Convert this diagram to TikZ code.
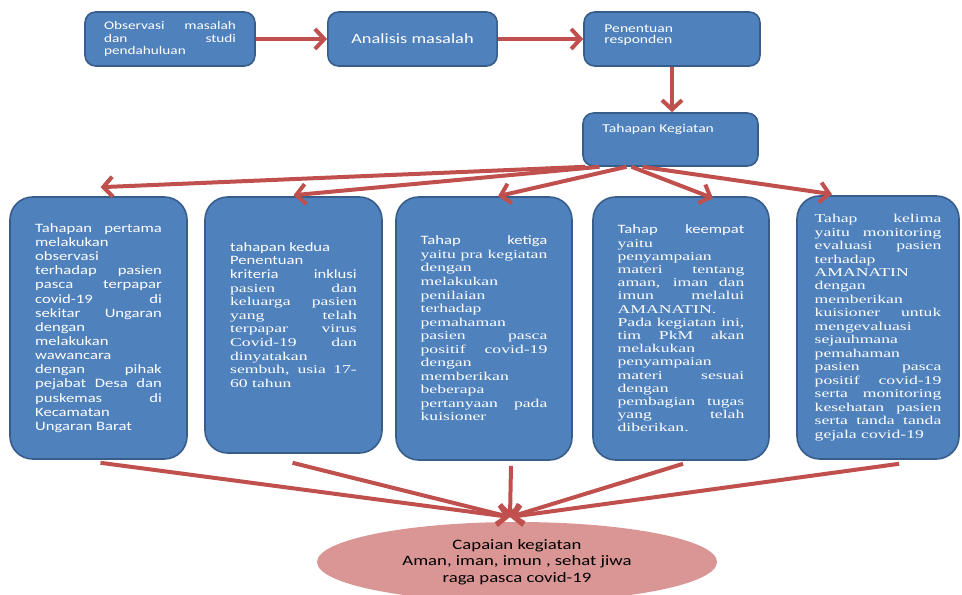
\documentclass[tikz,border=0pt]{standalone}
\usepackage{fontspec}
\setmainfont{Carlito}[FakeStretch=1.3]
\newfontfamily\serifbox{Liberation Serif}[FakeStretch=1.47]
\usetikzlibrary{arrows.meta,shapes.geometric,calc}
\definecolor{boxblue}{RGB}{79,129,189}
\definecolor{boxline}{RGB}{56,93,138}
\definecolor{arrowred}{RGB}{192,80,77}
\definecolor{capfill}{RGB}{217,150,148}
\newlength{\stageskip}
\newcommand{\srf}{\serifbox\fontsize{9}{\stageskip}\selectfont}
\tikzset{
topbox/.style={draw=boxline, fill=boxblue, line width=1.2pt, rounded corners=8pt, minimum height=40.5pt, text=white},
toptext/.style={anchor=north west, inner sep=0pt, text=white, align=left, font=\fontsize{9}{8.5}\selectfont},
stagebox/.style={draw=boxline, fill=boxblue, line width=1.2pt, rounded corners=17pt, text=white, text width=95pt, align=justify, minimum width=132.75pt, minimum height=196.5pt, font={\setlength{\stageskip}{#1}\fontsize{9.6}{\stageskip}\selectfont}},
flow/.style={draw=arrowred, line width=3pt, -{Straight Barb[length=7pt,width=15pt]}}
}

\begin{document}
\begin{tikzpicture}[x=0.75pt,y=0.75pt,yscale=-1,xscale=1]
\useasboundingbox (0,0) rectangle (962,595);

%Shape: Rounded Rect
\node[topbox, minimum width=127.5pt, text width=99pt, align=justify, font=\fontsize{8.8}{9.6}\selectfont] (obs) at (170,39) {Observasi masalah\linebreak dan studi\linebreak pendahuluan};
%Shape: Rounded Rect
\node[topbox, minimum width=127pt, font=\fontsize{10.6}{12}\selectfont] (ana) at (412.5,39) {Analisis masalah};
%Shape: Rounded Rect
\node[topbox, minimum width=132pt] (pen) at (672,39) {};
%Shape: Rounded Rect
\node[topbox, minimum width=131.25pt, minimum height=39.75pt] (tk) at (670.5,139.5) {};

% Text Node
\node[toptext] (pentext) at ($(pen.north west)+(21,13)$) {Penentuan\\responden};
% Text Node
\node[toptext] (tktext) at ($(tk.north west)+(20,12)$) {Tahapan Kegiatan};

%Shape: Rounded Rect
\node[stagebox=10.6pt] (s1) at (98.5,328) {Tahapan pertama\linebreak melakukan\linebreak observasi\linebreak terhadap pasien\linebreak pasca terpapar\linebreak covid-19 di\linebreak sekitar Ungaran\linebreak dengan\linebreak melakukan\linebreak wawancara\linebreak dengan pihak\linebreak pejabat Desa dan\linebreak puskemas di\linebreak Kecamatan\linebreak Ungaran Barat};
%Shape: Rounded Rect
\node[stagebox=10.2pt, minimum height=192pt] (s2) at (293.5,325) {tahapan kedua\\ Penentuan\linebreak kriteria inklusi\linebreak {\srf pasien dan\linebreak keluarga pasien\linebreak yang telah\linebreak terpapar virus\linebreak Covid-19 dan\linebreak dinyatakan\linebreak sembuh, usia 17-\linebreak 60 tahun}\\[5pt]\mbox{}};
%Shape: Rounded Rect
\node[stagebox=10.15pt, minimum width=132pt, minimum height=197.25pt] (s3) at (484,328.5) {Tahap ketiga\linebreak {\srf yaitu pra kegiatan\linebreak dengan\linebreak melakukan\linebreak penilaian\linebreak terhadap\linebreak pemahaman\linebreak pasien pasca\linebreak positif covid-19\linebreak dengan\linebreak memberikan\linebreak beberapa\linebreak pertanyaan pada\linebreak kuisioner}};
%Shape: Rounded Rect
\node[stagebox=9.9pt, minimum width=132pt, minimum height=197.25pt] (s4) at (681,328.5) {Tahap keempat\linebreak {\srf yaitu\linebreak penyampaian\linebreak materi tentang\linebreak aman, iman dan\linebreak imun melalui\linebreak AMANATIN.\linebreak Pada kegiatan ini,\linebreak tim PkM akan\linebreak melakukan\linebreak penyampaian\linebreak materi sesuai\linebreak dengan\linebreak pembagian tugas\linebreak yang telah\linebreak diberikan.}};
%Shape: Rounded Rect
\node[stagebox=10.1pt, minimum width=121.5pt, minimum height=197.25pt] (s5) at (878,327.5) {{\srf Tahap kelima\linebreak yaitu monitoring\linebreak evaluasi pasien\linebreak terhadap\linebreak AMANATIN\linebreak dengan\linebreak memberikan\linebreak kuisioner untuk\linebreak mengevaluasi\linebreak sejauhmana\linebreak pemahaman\linebreak pasien pasca\linebreak positif covid-19\linebreak serta monitoring\linebreak kesehatan pasien\linebreak serta tanda tanda\linebreak gejala covid-19}};

%Shape: Ellipse
\node[ellipse, fill=capfill, minimum width=300pt, minimum height=60pt, inner sep=0pt, align=center, font=\fontsize{10.8}{12.3}\selectfont] (cap) at (517,562) {Capaian kegiatan\\Aman, iman, imun , sehat jiwa\\raga pasca covid-19};
\coordinate (meet) at (510,517);

%Straight Lines
\draw[flow] (obs.east) -- (ana.west);
\draw[flow] (ana.east) -- (pen.west);
\draw[flow] (pen.south) -- (pen.south |- tk.north);
%Straight Lines
\draw[flow] ($(tk.south)+(-85,0)$) -- ($(s1.north)+(2,-9)$);
\draw[flow] ($(tk.south)+(-71,0)$) -- ($(s2.north)+(0,-1)$);
\draw[flow] ($(tk.south)+(-44,0)$) -- ($(s3.north)+(14,0)$);
\draw[flow] ($(tk.south)+(-39,0)$) -- ($(s4.north)+(32,2)$);
\draw[flow] ($(tk.south)+(-28,0)$) -- ($(s5.north)+(-46,-1)$);
%Straight Lines
\draw[flow] ($(s1.south)+(2,3)$) -- (meet);
\draw[flow] ($(s2.south)+(-1,9)$) -- (meet);
\draw[flow] ($(s3.south)+(27,5)$) -- (meet);
\draw[flow] ($(s4.south)+(2,3)$) -- (meet);
\draw[flow] ($(s5.south)+(21,4)$) -- (meet);

\end{tikzpicture}
\end{document}
